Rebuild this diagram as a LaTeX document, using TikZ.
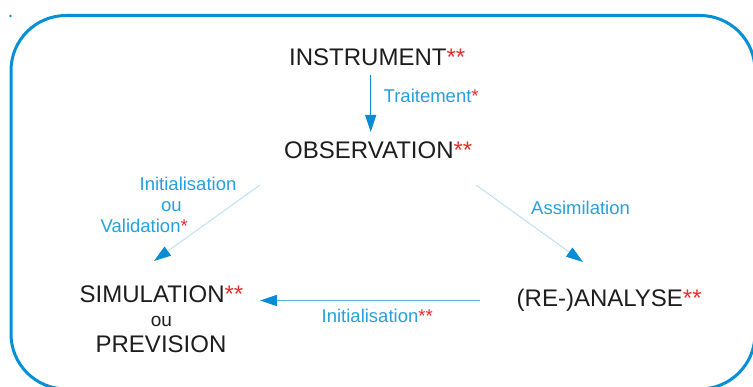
\documentclass[tikz,border=0pt]{standalone}
\usepackage{fontspec}
\setmainfont{Liberation Sans}
\usetikzlibrary{arrows.meta}
\definecolor{frameblue}{RGB}{5,143,213}
\definecolor{lblblue}{RGB}{38,160,222}
\definecolor{headblue}{RGB}{8,140,212}
\definecolor{paleline}{RGB}{185,222,245}
\definecolor{midline}{RGB}{95,182,232}
\definecolor{starred}{RGB}{235,45,45}
\definecolor{txt}{RGB}{30,30,30}
\newcommand{\rst}[1]{\textcolor{starred}{#1}}
\tikzset{
  big/.style={font=\fontsize{24}{28}\selectfont, text=txt, inner sep=0pt},
  lbl/.style={font=\fontsize{18.5}{22}\selectfont, text=lblblue, inner sep=0pt},
  small/.style={font=\fontsize{19}{22}\selectfont, text=txt, inner sep=0pt},
  headtip/.style={-{Triangle[length=17pt,width=11pt,color=headblue]}},
}
\begin{document}
\begin{tikzpicture}[x=1pt,y=-1pt]
\useasboundingbox (0,0) rectangle (753,387);
\clip (0,0) rectangle (753,387);
\fill[white] (0,0) rectangle (753,387);
% frame
\draw[frameblue, line width=3pt, rounded corners=55pt] (11,15.5) rectangle (755,389);
\fill[frameblue] (10.5,16) circle (1.3);
% main nodes
\node[big, anchor=base west] (instr) at (289,66) {INSTRUMENT\rst{**}};
\node[big, anchor=base west] (obs) at (284,159) {OBSERVATION\rst{**}};
\node[big, anchor=base] (sim) at (161.5,303) {SIMULATION\rst{**}};
\node[small, anchor=base] (simou) at (161.5,327) {ou};
\node[big, anchor=base] (prev) at (161,353) {PREVISION};
\node[big, anchor=base west] (ana) at (516.5,307) {(RE-)ANALYSE\rst{**}};
% labels
\node[lbl, anchor=base west] (trait) at (383.5,103) {Traitement\rst{*}};
\node[lbl, anchor=base west] (ini1) at (139.5,191) {Initialisation};
\node[lbl, anchor=base west] (ini2) at (161,212) {ou};
\node[lbl, anchor=base west] (valid) at (100.5,233) {Validation\rst{*}};
\node[lbl, anchor=base west] (assim) at (531,215) {Assimilation};
\node[lbl, anchor=base west] (ini3) at (321.5,323) {Initialisation\rst{**}};
% connector end points
\coordinate (instrS) at (370.7,75);
\coordinate (obsN) at (370.7,132);
\coordinate (obsSW) at (260,185);
\coordinate (simNE) at (154,261);
\coordinate (obsSE) at (476,185);
\coordinate (anaNW) at (583,262);
\coordinate (anaW) at (480,300.5);
\coordinate (simE) at (260,300.5);
% connectors
\draw[headtip, headblue, line width=1pt] (instrS) -- (obsN);
\draw[headtip, paleline, line width=0.9pt] (obsSW) -- (simNE);
\draw[headtip, paleline, line width=0.9pt] (obsSE) -- (anaNW);
\draw[headtip, midline, line width=1.4pt] (anaW) -- (simE);
\end{tikzpicture}
\end{document}
